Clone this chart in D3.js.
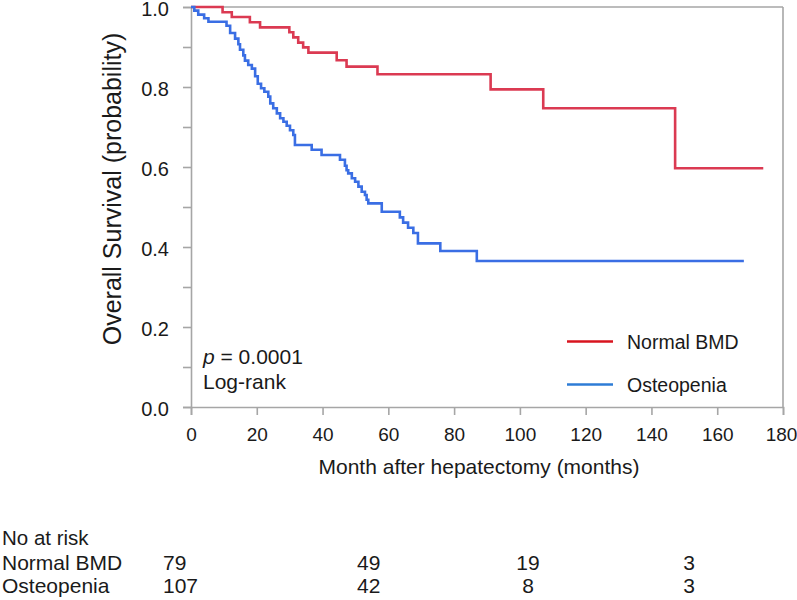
<!DOCTYPE html>
<html>
<head>
<meta charset="utf-8">
<script src="https://cdn.jsdelivr.net/npm/d3@7"></script>
<style>
  html, body { margin: 0; padding: 0; background: #fff; }
  svg { display: block; font-family: "Liberation Sans", Arial, Helvetica, sans-serif; }
</style>
</head>
<body>
<svg id="chart" width="797" height="600"></svg>
<script>
// ---- data ----
const normalTime = [0, 9.6, 12.4, 17.9, 21.0, 29.9, 31.1, 32.6, 34.1, 35.7, 44.3, 47.3, 56.7, 91.1, 107.1, 147.2, 174];
const normalSurv = [1.0, 0.987, 0.975, 0.962, 0.949, 0.937, 0.924, 0.911, 0.899, 0.886, 0.867, 0.851, 0.832, 0.794, 0.747, 0.597, 0.597];

const osteoTime = [0, 1.0, 2.2, 4.0, 5.3, 10.8, 11.9, 13.4, 14.4, 14.9, 15.9, 16.4, 17.4, 18.5, 19.5, 20.3, 21.3, 22.3, 23.5, 24.1, 25.0, 26.1, 27.1, 28.1, 29.1, 30.1, 31.1, 31.6, 36.7, 39.7, 45.3, 46.8, 47.3, 47.8, 48.9, 49.9, 50.9, 51.9, 52.9, 53.4, 53.9, 58.0, 63.5, 64.5, 66.0, 67.6, 69.0, 75.8, 86.9, 168.1];
const osteoSurv = [1.0, 0.991, 0.981, 0.972, 0.963, 0.953, 0.935, 0.921, 0.907, 0.893, 0.879, 0.866, 0.855, 0.846, 0.827, 0.808, 0.797, 0.788, 0.776, 0.759, 0.747, 0.734, 0.722, 0.713, 0.703, 0.692, 0.68, 0.655, 0.643, 0.63, 0.618, 0.603, 0.592, 0.584, 0.572, 0.563, 0.551, 0.538, 0.53, 0.518, 0.509, 0.488, 0.474, 0.461, 0.448, 0.435, 0.409, 0.39, 0.365, 0.365];

const seriesNames = ["Normal BMD", "Osteopenia"];
const xTicks = [0, 20, 40, 60, 80, 100, 120, 140, 160, 180];
const yTicksMajor = [0, 0.2, 0.4, 0.6, 0.8, 1.0];
const yTicksMinor = [0.1, 0.3, 0.5, 0.7, 0.9];
const riskHeader = "No at risk";
const riskNormal = [79, 49, 19, 3];
const riskOsteo = [107, 42, 8, 3];
const pText = "0.0001";
const testName = "Log-rank";
const xTitle = "Month after hepatectomy (months)";
const yTitle = "Overall Survival (probability)";

// ---- layout ----
const svg = d3.select("#chart");
const x = d3.scaleLinear().domain([0, 180]).range([191, 783]);
const y = d3.scaleLinear().domain([0, 1]).range([407, 7]);
const axisColor = "#a6a6a6";
const textColor = "#1a1a1a";
const curveColors = ["#db3a52", "#3a6ee4"];
const legendColors = ["#d8141f", "#2e7cd6"];

// frame (top / right)
svg.append("line").attr("x1", x(0)).attr("x2", x(180)).attr("y1", y(1)).attr("y2", y(1))
  .attr("stroke", axisColor).attr("stroke-width", 1.6);
svg.append("line").attr("x1", x(180)).attr("x2", x(180)).attr("y1", y(1)).attr("y2", y(0))
  .attr("stroke", axisColor).attr("stroke-width", 1.6);

// x axis
const xAxis = d3.axisBottom(x).tickValues(xTicks).tickFormat(d3.format("d")).tickSize(8).tickPadding(13);
const gx = svg.append("g").attr("transform", `translate(0,${y(0)})`).call(xAxis);
gx.select(".domain").attr("stroke", axisColor).attr("stroke-width", 1.6);
gx.selectAll(".tick line").attr("stroke", axisColor).attr("stroke-width", 1.6);
gx.selectAll(".tick text").attr("fill", textColor).style("font-size", "19px")
  .attr("x", d => d === 180 ? -2 : 0);

// y axis
const yAxis = d3.axisLeft(y).tickValues(yTicksMajor).tickFormat(d3.format(".1f")).tickSize(8).tickPadding(14);
const gy = svg.append("g").attr("transform", `translate(${x(0)},0)`).call(yAxis);
gy.select(".domain").attr("stroke", axisColor).attr("stroke-width", 1.6);
gy.selectAll(".tick line").attr("stroke", axisColor).attr("stroke-width", 1.6);
gy.selectAll(".tick text").attr("fill", textColor).style("font-size", "20px").attr("y", 2.5);
const yAxisMinor = d3.axisLeft(y).tickValues(yTicksMinor).tickFormat("").tickSize(8);
const gym = svg.append("g").attr("transform", `translate(${x(0)},0)`).call(yAxisMinor);
gym.select(".domain").remove();
gym.selectAll(".tick line").attr("stroke", axisColor).attr("stroke-width", 1.6);

// axis titles
svg.append("text").attr("x", 479).attr("y", 474).attr("text-anchor", "middle")
  .attr("fill", textColor).style("font-size", "21px").text(xTitle);
svg.append("text").attr("transform", `translate(121,189) rotate(-90)`).attr("text-anchor", "middle")
  .attr("fill", textColor).style("font-size", "25px").text(yTitle);

// curves
const line = d3.line().x(d => x(d[0])).y(d => y(d[1])).curve(d3.curveStepAfter);
const series = [
  normalTime.map((t, i) => [t, normalSurv[i]]),
  osteoTime.map((t, i) => [t, osteoSurv[i]])
];
series.forEach((s, i) => {
  svg.append("path").datum(s).attr("d", line).attr("fill", "none")
    .attr("stroke", curveColors[i]).attr("stroke-width", 2.6);
});

// legend
const legendY = [341.5, 384.5];
seriesNames.forEach((name, i) => {
  svg.append("line").attr("x1", 567).attr("x2", 613).attr("y1", legendY[i]).attr("y2", legendY[i])
    .attr("stroke", legendColors[i]).attr("stroke-width", 2.6);
  svg.append("text").attr("x", 627).attr("y", legendY[i] + 7).attr("fill", textColor)
    .style("font-size", "19.5px").text(name);
});

// p value annotation
const pt = svg.append("text").attr("x", 203).attr("y", 364).attr("fill", textColor).style("font-size", "21px");
pt.append("tspan").style("font-style", "italic").text("p");
pt.append("tspan").text(" = " + pText);
svg.append("text").attr("x", 203).attr("y", 389).attr("fill", textColor).style("font-size", "21px").text(testName);

// risk table
const rowY = [545, 570, 593];
svg.append("text").attr("x", 2).attr("y", rowY[0]).attr("fill", textColor).style("font-size", "20.5px").text(riskHeader);
const colX = [163, 357, 528, 689];
const colAnchor = ["start", "start", "middle", "middle"];
[riskNormal, riskOsteo].forEach((row, r) => {
  svg.append("text").attr("x", 2).attr("y", rowY[r + 1]).attr("fill", textColor).style("font-size", "21px").text(seriesNames[r]);
  row.forEach((v, c) => {
    svg.append("text").attr("x", colX[c]).attr("y", rowY[r + 1]).attr("text-anchor", colAnchor[c])
      .attr("fill", textColor).style("font-size", "21px").text(v);
  });
});
</script>
</body>
</html>
